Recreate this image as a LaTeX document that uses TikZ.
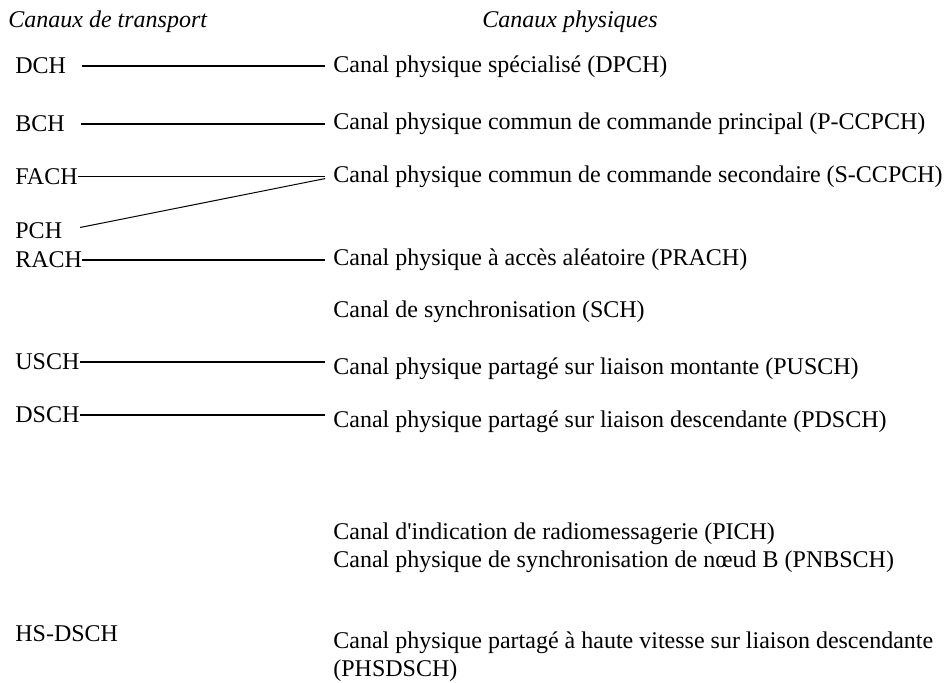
\documentclass[tikz,border=0pt]{standalone}
\usepackage{fontspec}
\setmainfont{Liberation Serif}

\tikzset{
  canal/.style={anchor=west, inner sep=0pt, font=\fontsize{12}{13.8}\selectfont},
  titre/.style={canal, font=\fontsize{12}{13.8}\selectfont\itshape},
  lien/.style={line width=1pt},
  lienfin/.style={line width=0.5pt}
}

\begin{document}
\begin{tikzpicture}[x=0.5pt, y=-0.5pt]
    \useasboundingbox (0, 0) rectangle (945, 683);

    \node[titre] (transport) at (8, 22) {Canaux de transport};
    \node[titre] (physiques) at (482, 22) {Canaux physiques};

    \node[canal] (dch) at (15, 66) {DCH};
    \node[canal] (dpch) at (333, 67) {Canal physique spécialisé (DPCH)};
    \draw[lien, shorten <=8pt, shorten >=4pt] (dch.east) -- (dch.east -| dpch.west);

    \node[canal] (bch) at (15, 124) {BCH};
    \node[canal] (pccpch) at (333, 124) {Canal physique commun de commande principal (P-CCPCH)};
    \draw[lien, shorten <=8pt, shorten >=4pt] (bch.east) -- (bch.east -| pccpch.west);

    \node[canal] (fach) at (15, 177) {FACH};
    \node[canal] (sccpch) at (333, 177) {Canal physique commun de commande secondaire (S-CCPCH)};
    \draw[lienfin, shorten >=4pt] (fach.east) -- (sccpch.west);

    \node[canal] (pch) at (15, 231) {PCH};
    \draw[lienfin, shorten <=9pt, shorten >=4pt] (pch.east) -- (sccpch.west);

    \node[canal] (rach) at (15, 260) {RACH};
    \node[canal] (prach) at (333, 260) {Canal physique à accès aléatoire (PRACH)};
    \draw[lien, shorten >=4pt] (rach.east) -- (rach.east -| prach.west);

    \node[canal] (sch) at (333, 312) {Canal de synchronisation (SCH)};

    \node[canal] (usch) at (15, 362) {USCH};
    \node[canal] (pusch) at (333, 369) {Canal physique partagé sur liaison montante (PUSCH)};
    \draw[lien, shorten >=4pt] (usch.east) -- (usch.east -| pusch.west);

    \node[canal] (dsch) at (15, 415) {DSCH};
    \node[canal] (pdsch) at (333, 422) {Canal physique partagé sur liaison descendante (PDSCH)};
    \draw[lien, shorten >=4pt] (dsch.east) -- (dsch.east -| pdsch.west);

    \node[canal] (pich) at (333, 534) {Canal d\textquotesingle indication de radiomessagerie (PICH)};
    \node[canal] (pnbsch) at (333, 562) {Canal physique de synchronisation de n\oe ud B (PNBSCH)};

    \node[canal] (hsdsch) at (15, 634) {HS-DSCH};
    \node[canal, align=left] (phsdsch) at (333, 657) {Canal physique partagé à haute vitesse sur liaison descendante\\(PHSDSCH)};
\end{tikzpicture}
\end{document}
